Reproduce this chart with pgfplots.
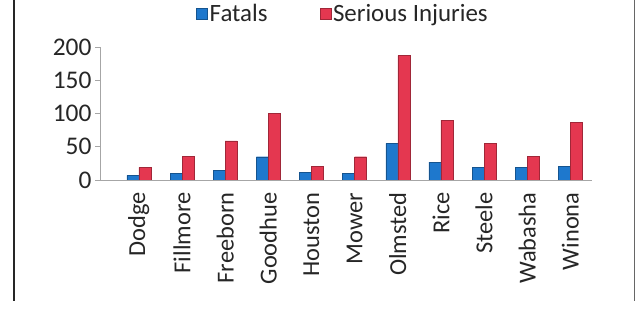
\documentclass[border=0pt]{standalone}
\usepackage{pgfplots}
\pgfplotsset{compat=1.18}
\usepackage{fontspec}
\setmainfont{Carlito}
\definecolor{fatblue}{RGB}{30,120,205}
\definecolor{serred}{RGB}{228,55,80}
\begin{document}
\begin{tikzpicture}
\useasboundingbox (0,0) rectangle (636bp,311bp);
\draw[line width=1.6bp, black!85] (14bp,311bp) -- (14bp,10bp);
\draw[line width=1bp, black!60] (634bp,311bp) -- (634bp,10bp);
\begin{axis}[
  at={(100bp,131bp)}, anchor=south west,
  scale only axis, width=492bp, height=133bp,
  xmin=-0.9, xmax=10.5, ymin=0, ymax=200,
  axis x line*=bottom, axis y line*=left,
  axis line style={gray!70, line width=0.8pt},
  ytick={0,50,100,150,200},
  tick align=outside,
  major tick length=5bp,
  tick style={gray!70, line width=0.6pt},
  xtick={0,...,10},
  x tick style={draw=none},
  minor xtick={-0.5,0.5,...,10.5},
  minor tick length=6bp,
  minor x tick style={gray!70, line width=0.6pt},
  xticklabels={Dodge,Fillmore,Freeborn,Goodhue,Houston,Mower,Olmsted,Rice,Steele,Wabasha,Winona},
  xticklabel style={rotate=90, anchor=east, xshift=-4bp, font=\fontsize{24.5}{28}\selectfont, text=black!85},
  yticklabel style={font=\fontsize{25.5}{28}\selectfont, text=black!85},
  /pgf/number format/assume math mode=true,
  ybar, bar width=12bp,
  legend columns=2,
  legend style={at={(0.494,1.25)}, anchor=center, draw=none, fill=none,
    font=\fontsize{25}{28}\selectfont, text=black!85,
    /tikz/every even column/.append style={column sep=50bp}},
  legend image code/.code={\fill[#1] (0bp,-5bp) rectangle (11bp,6bp);},
]
\addplot[fill=fatblue, draw=fatblue!70!black, bar shift=-6bp] coordinates {
 (0,7) (1,10) (2,15) (3,35) (4,11) (5,10) (6,55) (7,27) (8,19) (9,19) (10,21)};
\addplot[fill=serred, draw=serred!70!black, bar shift=6bp] coordinates {
 (0,19) (1,36) (2,59) (3,100) (4,21) (5,35) (6,187) (7,90) (8,55) (9,36) (10,87)};
\legend{Fatals, Serious Injuries}
\end{axis}
\end{tikzpicture}
\end{document}
